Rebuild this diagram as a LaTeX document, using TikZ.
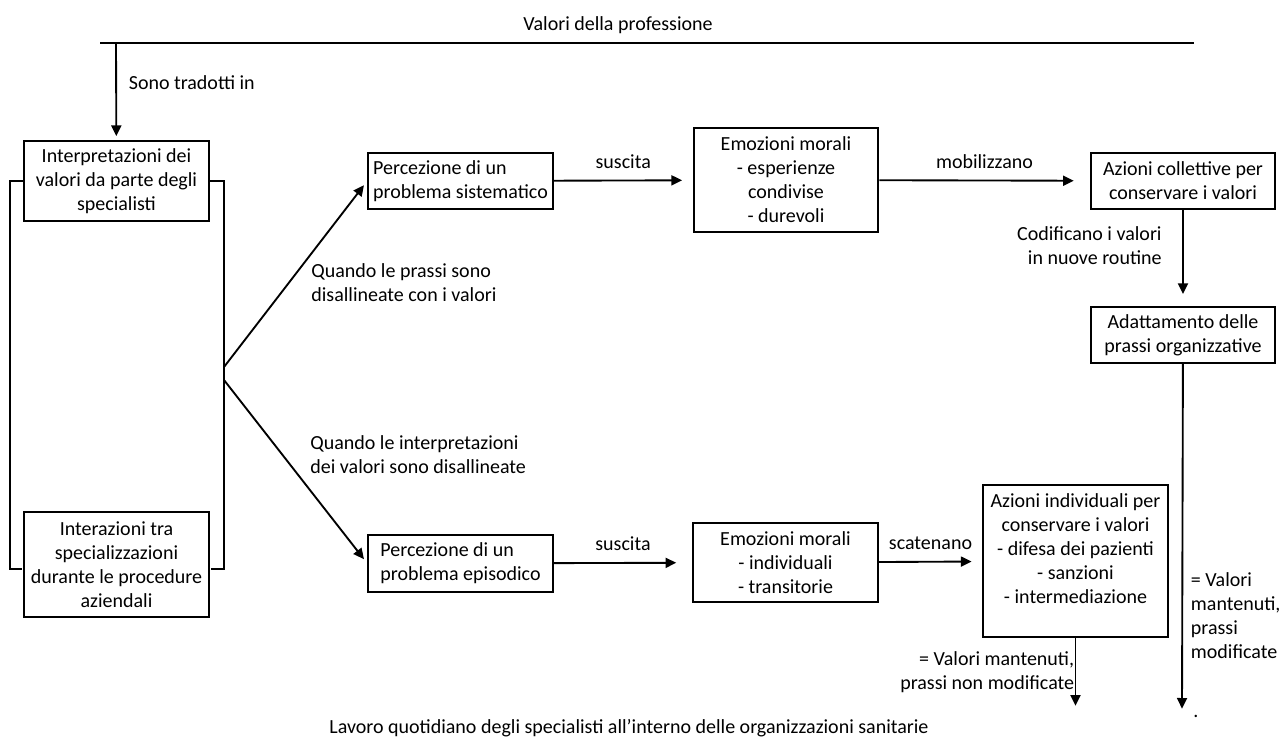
\documentclass[tikz,border=0pt]{standalone}
\usepackage{fontspec}
\setmainfont{Carlito}
\usetikzlibrary{arrows.meta, positioning}

\begin{document}
\begin{tikzpicture}[x=0.75pt, y=-0.75pt, >={Triangle[length=8pt, width=7.5pt]}, shorten >=1pt, line width=1.4pt,
    font=\fontsize{15}{18}\selectfont,
    box/.style={draw, minimum width=138.5pt, inner sep=2pt, align=center}]
    \useasboundingbox (0,0) rectangle (1286,742);

    % values line
    \node (title) at (618,25) {Valori della professione};
    \coordinate (lineL) at (100,43);
    \coordinate (lineR) at (1195,43);
    \coordinate (top) at (116,43);
    \draw (lineL) -- (lineR);

    % left column
    \node[box, minimum height=60pt] (int1) at (116.5,181) {Interpretazioni dei\\valori da parte degli\\specialisti};
    \node[box, minimum height=78.75pt] (int2) [below=216.75pt of int1] {Interazioni tra\\specializzazioni\\durante le procedure\\aziendali};
    \coordinate (fork1) at (224,367);
    \coordinate (fork2) at (224,380);

    % perceptions and emotions
    \node[box, align=left, minimum height=42pt] (perc1) at (460.5,181) {Percezione di un\\problema sistematico};
    \node[box, align=left, minimum height=42.75pt] (perc2) [below=243pt of perc1] {Percezione di un\\problema episodico};
    \node[box, minimum height=78pt] (emo1) at (786,180) {Emozioni morali\\- esperienze\\condivise\\- durevoli};
    \node[box, minimum height=59.25pt] (emo2) at (785.5,562.5) {Emozioni morali\\- individuali\\- transitorie};

    % actions
    \node[box, minimum height=42pt] (az1) at (1183,181) {Azioni collettive per\\conservare i valori};
    \node[box, minimum height=42pt] (az2) [below=72pt of az1] {Adattamento delle\\prassi organizzative};
    \node[box, minimum height=114pt, text depth=19pt] (az3) at (1075.5,561) {Azioni individuali per\\conservare i valori\\- difesa dei pazienti\\- sanzioni\\- intermediazione};
    \coordinate (endA) at (1182,710);
    \coordinate (endB) at (1075.5,707);

    % bracket round the left column
    \draw (int1.west) -| (10,569) -- (int2.west |- 0,569);
    \draw (int1.east) -| (224,569) -- (int2.east |- 0,569);

    \path[->]
    % from the values
    (top) edge[shorten >=3pt] node[right=5.5pt, pos=.41] {Sono tradotti in} (int1)

    % the two branches
    (fork1) edge[shorten >=4pt] (perc1.west)
    (fork2) edge[shorten >=4pt] (perc2.west)

    % systematic problem
    (perc1) edge[shorten >=8pt] node[above=5pt] {suscita} (emo1)
    (emo1) edge[shorten >=12pt] node[above=5pt] {mobilizzano} (az1)
    (az1) edge[shorten >=9pt] node[left=12pt, pos=.375, align=right] {Codificano i valori\\in nuove routine} (az2)
    (az2) edge node[right=2.5pt, pos=.726, align=left] {= Valori\\mantenuti,\\prassi\\modificate} (endA)

    % episodic problem
    (perc2) edge[shorten >=12pt] node[above=5pt] {suscita} (emo2)
    (emo2) edge[shorten >=8pt] node[above=5pt] {scatenano} (az3)
    (az3) edge node[left=-3pt, align=right] {= Valori mantenuti,\\prassi non modificate} (endB);

    \node[align=left, anchor=west] (cond1) at (306,283) {Quando le prassi sono\\disallineate con i valori};
    \node[align=left, anchor=west] (cond2) at (305,455) {Quando le interpretazioni\\dei valori sono disallineate};
    \node (dot) at (1196,716) {.};
    \node (work) at (629,728) {Lavoro quotidiano degli specialisti all’interno delle organizzazioni sanitarie};
\end{tikzpicture}
\end{document}
